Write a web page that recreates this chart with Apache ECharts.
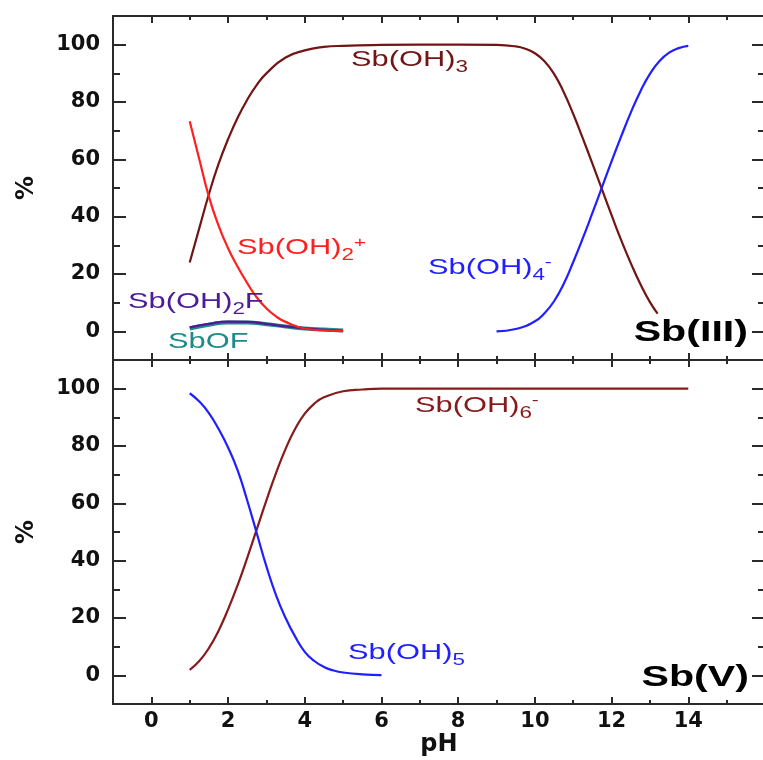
<!DOCTYPE html>
<html>
<head>
<meta charset="utf-8">
<title>Sb speciation vs pH</title>
<script src="https://cdn.jsdelivr.net/npm/echarts@6/dist/echarts.min.js"></script>
<style>
  html, body { margin: 0; padding: 0; background: #ffffff; }
  #chart { width: 763px; height: 760px; }
</style>
</head>
<body>
<div id="chart"></div>
<script>
// ---- Sb(III) species, percent of total vs pH ----
const sbOH3PH  = [1, 1.25, 1.5, 1.75, 2, 2.25, 2.5, 2.75, 3, 3.5, 4, 4.5, 5, 6, 7, 8, 9, 9.5, 9.75, 10, 10.25, 10.5, 10.75, 11, 11.25, 11.5, 11.75, 12, 12.25, 12.5, 12.75, 13, 13.2];
const sbOH3Pct = [24, 36, 47.8, 58.3, 67, 74.5, 80.8, 86, 90, 95.5, 98, 99.2, 99.6, 99.9, 100, 100, 99.9, 99.4, 98.6, 97, 94.2, 89.8, 83.5, 75.8, 67.3, 58.5, 49.5, 40.5, 31.8, 23.8, 16.5, 10.2, 6.2];

const sbOH2PH  = [1, 1.25, 1.5, 1.75, 2, 2.25, 2.5, 2.75, 3, 3.25, 3.5, 4, 4.5, 5];
const sbOH2Pct = [73.3, 60, 47, 37, 29, 22.5, 16.8, 11.8, 8, 5.2, 3.3, 1, 0.35, 0.1];

const sbOH4PH  = [9, 9.5, 10, 10.25, 10.5, 10.75, 11, 11.25, 11.5, 11.75, 12, 12.25, 12.5, 12.75, 13, 13.25, 13.5, 13.75, 14];
const sbOH4Pct = [0, 0.8, 3.5, 6.3, 10.5, 16.5, 24.2, 32.5, 41.3, 50.3, 59.3, 68, 76.3, 83.7, 89.8, 94.3, 97.2, 98.8, 99.6];

const fluoroPH   = [1, 1.5, 2, 2.5, 3, 3.5, 4, 4.5, 5];
const sbOH2FPct  = [1.4, 2.6, 3.4, 3.3, 2.6, 1.7, 1.0, 0.5, 0.2];
const sbOFPct    = [1.0, 2.3, 3.1, 3.1, 2.5, 1.7, 1.0, 0.6, 0.3];

// ---- Sb(V) species ----
const sbOH5PH  = [1, 1.25, 1.5, 1.75, 2, 2.25, 2.5, 2.75, 3, 3.25, 3.5, 3.75, 4, 4.25, 4.5, 4.75, 5, 5.5, 6];
const sbOH5Pct = [98.4, 95.5, 91.5, 86, 79.5, 71.5, 61, 49.5, 38, 28, 20, 13.5, 8.2, 5, 2.9, 1.7, 1, 0.35, 0.1];

const sbOH6PH  = [1, 1.25, 1.5, 1.75, 2, 2.25, 2.5, 2.75, 3, 3.25, 3.5, 3.75, 4, 4.25, 4.5, 5, 5.5, 6, 8, 10, 12, 14];
const sbOH6Pct = [1.9, 5, 9.5, 15.5, 23, 31.5, 41, 51, 61, 70.5, 79, 86, 91.3, 94.8, 97, 99.1, 99.7, 100, 100, 100, 100, 100];

// ---- tick positions ----
const pHLabels   = [0, 2, 4, 6, 8, 10, 12, 14];
const pHMajor    = [0, 2, 4, 6, 8, 10, 12, 14];
const pHMinor    = [1, 3, 5, 7, 9, 11, 13, 15];
const pctLabels  = [0, 20, 40, 60, 80, 100];
const pctMajor   = [0, 20, 40, 60, 80, 100];
const pctMinor   = [10, 30, 50, 70, 90];

const pairs = (xs, ys) => xs.map((x, i) => [x, ys[i]]);

const AXIS = '#2a2a2a';
const TICK_FONT = { color: '#111', fontFamily: 'DejaVu Sans', fontWeight: 'bold', fontSize: 21 };
const NAME_FONT = { color: '#111', fontFamily: 'DejaVu Sans', fontWeight: 'bold', fontSize: 24 };

function xAxisDef(grid, position, ticks, len, showLine, withLabels) {
  const ax = {
    type: 'value', gridIndex: grid, position: position,
    min: -1, max: 16, interval: 1,
    axisLine: { show: showLine, onZero: false, lineStyle: { color: AXIS, width: 2 } },
    axisTick: { show: true, inside: true, length: len, customValues: ticks, lineStyle: { color: AXIS, width: 2 } },
    axisLabel: withLabels
      ? Object.assign({ show: true, customValues: pHLabels, margin: 7 }, TICK_FONT)
      : { show: false },
    splitLine: { show: false }
  };
  if (withLabels) {
    ax.name = 'pH';
    ax.nameLocation = 'middle';
    ax.nameGap = 28;
    ax.nameTextStyle = NAME_FONT;
  }
  return ax;
}

function yAxisDef(grid, position, ticks, len, showLine, withLabels) {
  const ax = {
    type: 'value', gridIndex: grid, position: position,
    min: -10, max: 110, interval: 10,
    axisLine: { show: showLine, onZero: false, lineStyle: { color: AXIS, width: 2 } },
    axisTick: { show: true, inside: true, length: len, customValues: ticks, lineStyle: { color: AXIS, width: 2 } },
    axisLabel: withLabels
      ? Object.assign({ show: true, customValues: pctLabels, margin: 13 }, TICK_FONT)
      : { show: false },
    splitLine: { show: false }
  };
  if (withLabels) {
    ax.name = '%';
    ax.nameLocation = 'middle';
    ax.nameGap = 74;
    ax.nameRotate = 90;
    ax.nameTextStyle = NAME_FONT;
  }
  return ax;
}

const xAxes = [];
const yAxes = [];
[0, 1].forEach(g => {
  xAxes.push(xAxisDef(g, 'bottom', pHMajor, 7, true, g === 1));
  xAxes.push(xAxisDef(g, 'bottom', pHMinor, 4, false, false));
  xAxes.push(xAxisDef(g, 'top', pHMajor, 7, true, false));
  xAxes.push(xAxisDef(g, 'top', pHMinor, 4, false, false));
  yAxes.push(yAxisDef(g, 'left', pctMajor, 13, true, true));
  yAxes.push(yAxisDef(g, 'left', pctMinor, 7, false, false));
  yAxes.push(yAxisDef(g, 'right', pctMajor, 13, true, false));
  yAxes.push(yAxisDef(g, 'right', pctMinor, 7, false, false));
});

function curve(name, panel, xs, ys, color, width, z) {
  return {
    name: name, type: 'line',
    xAxisIndex: panel * 4, yAxisIndex: panel * 4,
    data: pairs(xs, ys),
    showSymbol: false, symbol: 'none',
    smooth: 0.5,
    lineStyle: { color: color, width: width },
    z: z, silent: true
  };
}

const DARK_RED = '#711515';
const DARK_RED_V = '#861b1b';
const RED = '#ff1f1f';
const BLUE = '#1f1fff';
const PURPLE = '#4c1b98';
const TEAL = '#1f8a8a';

const LABEL_FONT = '"Liberation Sans", Arial, sans-serif';
function speciesLabel(text, x, y, color) {
  return {
    type: 'text', x: x, y: y, scaleX: 1.4, z: 100,
    style: {
      text: text, fill: color, textAlign: 'left', textVerticalAlign: 'middle',
      fontSize: 22, fontFamily: LABEL_FONT,
      rich: {
        m: { fontSize: 22, fontFamily: LABEL_FONT, lineHeight: 26, fill: color },
        b: { fontSize: 16, fontFamily: LABEL_FONT, lineHeight: 26, verticalAlign: 'middle', padding: [16, 0, 0, 0], fill: color },
        p: { fontSize: 15, fontFamily: LABEL_FONT, lineHeight: 14, verticalAlign: 'top', fill: color }
      }
    }
  };
}
function stateLabel(text, x, y) {
  return {
    type: 'text', x: x, y: y, scaleX: 1.42, z: 100,
    style: {
      text: text, fill: '#000', textAlign: 'right', textVerticalAlign: 'middle',
      fontSize: 29, fontWeight: 'bold', fontFamily: LABEL_FONT
    }
  };
}

const chart = echarts.init(document.getElementById('chart'), null, { renderer: 'canvas' });
chart.setOption({
  animation: false,
  backgroundColor: '#ffffff',
  grid: [
    { left: 113, top: 16, width: 652, height: 344, outerBoundsMode: 'none' },
    { left: 113, top: 360, width: 652, height: 344, outerBoundsMode: 'none' }
  ],
  xAxis: xAxes,
  yAxis: yAxes,
  series: [
    curve('SbOF', 0, fluoroPH, sbOFPct, TEAL, 4, 2),
    curve('Sb(OH)2F', 0, fluoroPH, sbOH2FPct, PURPLE, 2.2, 3),
    curve('Sb(OH)3', 0, sbOH3PH, sbOH3Pct, DARK_RED, 2.2, 4),
    curve('Sb(OH)2+', 0, sbOH2PH, sbOH2Pct, RED, 2.2, 5),
    curve('Sb(OH)4-', 0, sbOH4PH, sbOH4Pct, BLUE, 2.2, 5),
    curve('Sb(OH)6-', 1, sbOH6PH, sbOH6Pct, DARK_RED_V, 2.2, 4),
    curve('Sb(OH)5', 1, sbOH5PH, sbOH5Pct, BLUE, 2.2, 5)
  ],
  graphic: [
    speciesLabel('{m|Sb(OH)}{b|3}', 351, 60, DARK_RED),
    speciesLabel('{m|Sb(OH)}{b|2}{p|+}', 237, 248, RED),
    speciesLabel('{m|Sb(OH)}{b|4}{p|-}', 428, 268, BLUE),
    speciesLabel('{m|Sb(OH)}{b|2}{m|F}', 128, 302, PURPLE),
    speciesLabel('{m|SbOF}', 168, 342, TEAL),
    speciesLabel('{m|Sb(OH)}{b|6}{p|-}', 415, 406, DARK_RED_V),
    speciesLabel('{m|Sb(OH)}{b|5}', 348, 653, BLUE),
    stateLabel('Sb(III)', 748, 333),
    stateLabel('Sb(V)', 749, 678)
  ]
});
</script>
</body>
</html>
